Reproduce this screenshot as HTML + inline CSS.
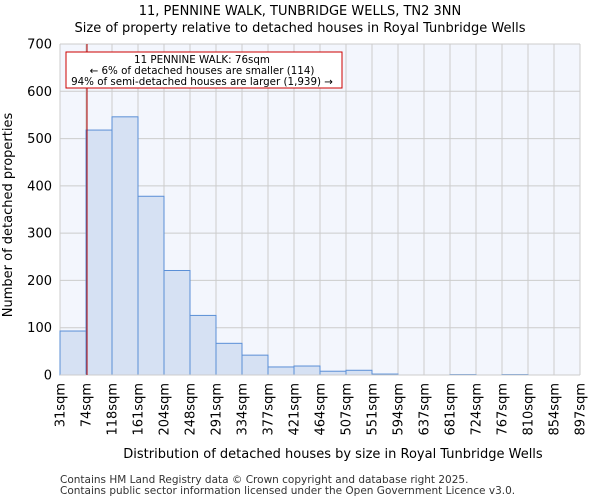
<!DOCTYPE html>
<html><head><meta charset="utf-8"><style>
body{margin:0;background:#fff;font-family:"DejaVu Sans","Liberation Sans",sans-serif}
</style></head><body>
<svg width="600" height="500" xmlns="http://www.w3.org/2000/svg" font-family="DejaVu Sans, Liberation Sans, sans-serif">
<text x="300" y="15" text-anchor="middle" font-size="13">11, PENNINE WALK, TUNBRIDGE WELLS, TN2 3NN</text>
<text x="300" y="32" text-anchor="middle" font-size="13">Size of property relative to detached houses in Royal Tunbridge Wells</text>
<rect x="60" y="44" width="520" height="331" fill="#f3f6fd"/>
<g id="grid"></g><g id="bars"></g><g id="axes"></g>
<text transform="translate(12,215) rotate(-90)" text-anchor="middle" font-size="13">Number of detached properties</text>
<text x="333" y="458" text-anchor="middle" font-size="13">Distribution of detached houses by size in Royal Tunbridge Wells</text>
<text x="60" y="483" font-size="10.5" fill="#333">Contains HM Land Registry data © Crown copyright and database right 2025.</text>
<text x="60" y="494" font-size="10.5" fill="#333">Contains public sector information licensed under the Open Government Licence v3.0.</text>
<line x1="87" y1="44" x2="87" y2="375" stroke="#b00000" stroke-width="1"/>
<rect x="66" y="52" width="276" height="36" fill="#fff" stroke="#c00"/>
<text x="202" y="63" text-anchor="middle" font-size="10.3">11 PENNINE WALK: 76sqm</text>
<text x="202" y="74" text-anchor="middle" font-size="10.3">← 6% of detached houses are smaller (114)</text>
<text x="202" y="85" text-anchor="middle" font-size="10.3">94% of semi-detached houses are larger (1,939) →</text>
</svg>
<script>
const binLabels=["31sqm","74sqm","118sqm","161sqm","204sqm","248sqm","291sqm","334sqm","377sqm","421sqm","464sqm","507sqm","551sqm","594sqm","637sqm","681sqm","724sqm","767sqm","810sqm","854sqm","897sqm"];
const counts=[93,518,546,378,221,126,67,42,17,19,8,10,2,0,0,1,0,1,0,0];
const yTicks=[0,100,200,300,400,500,600,700];
const NS="http://www.w3.org/2000/svg";
const x0=60,x1=580,y0=375,y1=44,yMax=700;
const nb=counts.length;
const xs=i=>x0+(x1-x0)*i/nb;
const ys=v=>y0-(y0-y1)*v/yMax;
function mk(t,a,p){const e=document.createElementNS(NS,t);for(const k in a)e.setAttribute(k,a[k]);p.appendChild(e);return e;}
const g=document.getElementById('grid'),b=document.getElementById('bars'),ax=document.getElementById('axes');
yTicks.forEach(v=>{
 const l=mk('line',{x1:x0,x2:x1,y1:ys(v),y2:ys(v),stroke:'#ccc'},g);
 
 
 const t=mk('text',{x:x0-8,y:ys(v)+4.5,'text-anchor':'end','font-size':'13'},ax);
 t.textContent=v;
 
 
});
binLabels.forEach((s,i)=>{
 const l=mk('line',{x1:xs(i),x2:xs(i),y1:y1,y2:y0,stroke:'#ccc'},g);
 
 
 const t=mk('text',{transform:`translate(${xs(i)+4.5},${y0+8}) rotate(-90)`,'text-anchor':'end','font-size':'13'},ax);
 t.textContent=s;
 
 
});
counts.forEach((c,i)=>{
 const r=mk('rect',{x:xs(i),y:ys(c),width:xs(i+1)-xs(i),height:y0-ys(c),fill:'#d6e1f3',stroke:'#5b8fd6','stroke-width':1},b);
 
 
});
const ab=mk('line',{x1:x0,x2:x1,y1:y0,y2:y0,stroke:'#ccc'},ax);


</script>
</body></html>
